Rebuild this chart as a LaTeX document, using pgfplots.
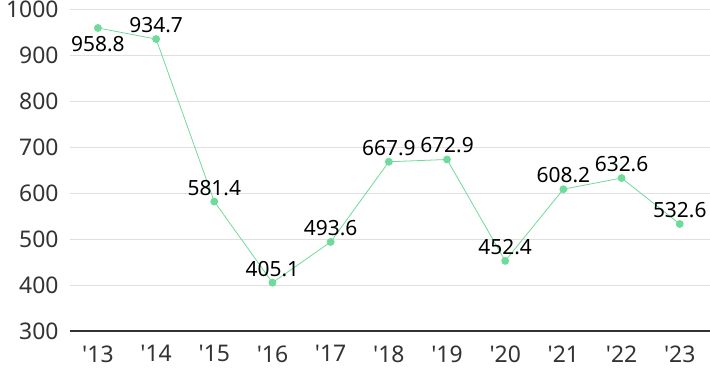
\documentclass[border=0pt]{standalone}
\usepackage{pgfplots}
\pgfplotsset{compat=1.18}
\usepackage{fontspec}
\setmainfont{Noto Sans}
\definecolor{lg}{HTML}{6EDB9A}
\definecolor{tk}{HTML}{333333}
\begin{document}
\begin{tikzpicture}
\begin{axis}[
 scale only axis, width=640bp, height=322bp,
 xmin=-0.48, xmax=10.52, ymin=300, ymax=1000,
 ytick={300,400,...,1000},
 xtick={0,...,10},
 xticklabels={\textquotesingle13,\textquotesingle14,\textquotesingle15,\textquotesingle16,\textquotesingle17,\textquotesingle18,\textquotesingle19,\textquotesingle20,\textquotesingle21,\textquotesingle22,\textquotesingle23},
 axis line style={draw=none},
 major tick length=0pt,
 ymajorgrids, grid style={draw=black!12, line width=0.8bp},
 extra y ticks={300}, extra y tick labels={},
 extra y tick style={grid style={draw=tk, line width=1.3bp}},
 tick label style={font=\fontsize{23}{26}\selectfont, text=tk},
 /pgf/number format/assume math mode=true,
 /pgf/number format/1000 sep={},
 yticklabel style={xshift=-8bp},
 xticklabel style={yshift=-11bp},
 clip=false,
 nodes near coords style={font=\fontsize{21}{24}\selectfont, text=black, inner sep=2bp},
]
\addplot[color=lg, line width=0.8bp, mark=*, mark size=3.5bp, mark options={fill=lg, draw=lg}]
 coordinates {(0,958.8) (1,934.7) (2,581.4) (3,405.1) (4,493.6) (5,667.9) (6,672.9) (7,452.4) (8,608.2) (9,632.6) (10,532.6)};
\addplot[draw=none, mark=none, point meta=explicit symbolic, nodes near coords,
 nodes near coords style={anchor=south, yshift=4bp}]
 coordinates {(1,934.7)[934.7] (2,581.4)[581.4] (3,405.1)[405.1] (4,493.6)[493.6] (5,667.9)[667.9] (6,672.9)[672.9] (7,452.4)[452.4] (8,608.2)[608.2] (9,632.6)[632.6] (10,532.6)[532.6]};
\addplot[draw=none, mark=none, point meta=explicit symbolic, nodes near coords,
 nodes near coords style={anchor=north, yshift=-6bp}]
 coordinates {(0,958.8)[958.8]};
\end{axis}
\pgfresetboundingbox
\path (current axis.south west) ++(-70bp,-40bp) rectangle ++(710bp,371bp);
\end{tikzpicture}
\end{document}
